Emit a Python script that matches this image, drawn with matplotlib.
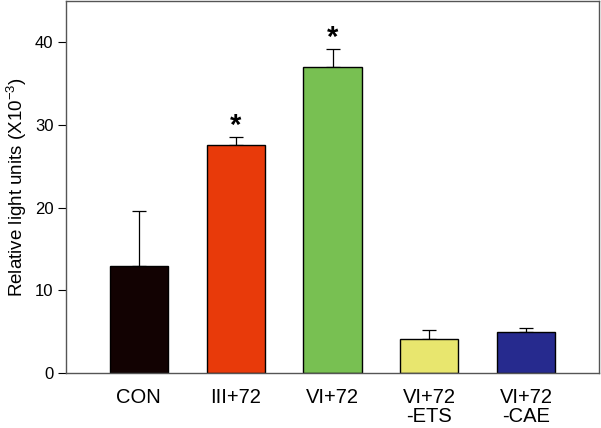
import matplotlib
matplotlib.use("Agg")
import matplotlib.pyplot as plt

plt.rcParams["font.family"] = ["Liberation Sans", "DejaVu Sans"]
plt.rcParams["mathtext.fontset"] = "custom"
plt.rcParams["mathtext.rm"] = "Liberation Sans"
plt.rcParams["mathtext.it"] = "Liberation Sans:italic"
plt.rcParams["mathtext.default"] = "rm"

labels = ["CON", "III+72", "VI+72", "VI+72\n-ETS", "VI+72\n-CAE"]
means = [13.0, 27.6, 37.0, 4.1, 5.0]
errs = [6.6, 1.0, 2.2, 1.1, 0.4]
stars = [False, True, True, False, False]
colors = ["#120202", "#e83a0a", "#78c052", "#e8e66e", "#262a8e"]

fig = plt.figure(figsize=(6.01, 4.28), dpi=100)
ax = fig.add_axes([66 / 601, 1 - 373 / 428, 533 / 601, 372 / 428])

x = range(len(labels))
ax.bar(x, means, width=0.6, color=colors, edgecolor="black", linewidth=1.0, zorder=2)
ax.errorbar(x, means, yerr=[[0] * len(errs), errs], fmt="none", ecolor="black",
            elinewidth=0.9, capsize=5, capthick=0.9, zorder=1)

for xi, m, e, s in zip(x, means, errs, stars):
    if s:
        ax.text(xi, m + e + 1.3, "*", ha="center", va="center", fontsize=21,
                fontweight="bold")

ax.set_xlim(-0.75, 4.75)
ax.set_ylim(0, 45)
ax.set_yticks([0, 10, 20, 30, 40])
ax.set_xticks(list(x))
ax.set_xticklabels(labels, fontsize=14.5, linespacing=0.95)
ax.tick_params(axis="x", length=0, pad=11)
ax.tick_params(axis="y", direction="out", length=6, width=0.8, labelsize=12, pad=3)
for sp in ax.spines.values():
    sp.set_color("#555555")
    sp.set_linewidth(1.0)
ax.set_ylabel("Relative light units (X10$^{-3}$)", fontsize=13.5, labelpad=4)

fig.savefig("out.png", dpi=100)
